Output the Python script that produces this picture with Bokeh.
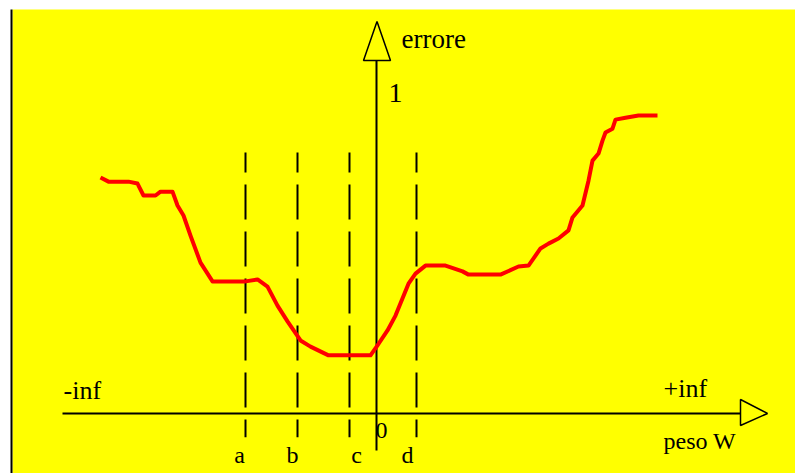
from bokeh.plotting import figure
from bokeh.models import Range1d
from bokeh.core.properties import value
from bokeh.embed import file_html
from bokeh.resources import INLINE

# ---- data (w = peso, e = errore) ----
curve_w = [-2.76, -2.68, -2.48, -2.39, -2.33, -2.21, -2.16, -2.04, -1.99, -1.93,
           -1.86, -1.76, -1.64, -1.31, -1.19, -1.09, -0.99, -0.89, -0.76, -0.66,
           -0.48, -0.06, 0.01, 0.11, 0.19, 0.32, 0.39, 0.49, 0.69, 0.86,
           0.92, 1.24, 1.42, 1.52, 1.64, 1.72, 1.82, 1.92, 1.96, 2.06,
           2.12, 2.16, 2.22, 2.26, 2.29, 2.36, 2.39, 2.49, 2.62, 2.81]
curve_e = [0.731, 0.718, 0.718, 0.712, 0.675, 0.675, 0.687, 0.687, 0.644, 0.613,
           0.551, 0.467, 0.409, 0.409, 0.415, 0.393, 0.334, 0.285, 0.226, 0.207,
           0.180, 0.180, 0.211, 0.257, 0.303, 0.402, 0.433, 0.458, 0.458, 0.440,
           0.430, 0.430, 0.455, 0.458, 0.511, 0.526, 0.542, 0.567, 0.607, 0.644,
           0.721, 0.783, 0.805, 0.845, 0.870, 0.882, 0.910, 0.916, 0.923, 0.923]

mark_names = ["a", "b", "c", "d"]
mark_w = [-1.31, -0.79, -0.27, 0.40]
mark_label_w = [-1.37, -0.84, -0.20, 0.31]
mark_top = 0.808
mark_bottom = -0.074

x_axis_left = -3.14
x_axis_right = 3.64
y_axis_bottom = -0.115
y_axis_top = 1.093

x_min, x_max = -3.76, 4.19
y_min, y_max = -0.186, 1.279
panel_left = -3.64
panel_top = 1.251

p = figure(width=795, height=473, output_backend="svg", toolbar_location=None,
           x_axis_type=None, y_axis_type=None, min_border=0,
           x_range=Range1d(x_min, x_max), y_range=Range1d(y_min, y_max))
p.outline_line_color = None
p.grid.visible = False
p.background_fill_color = "white"
p.border_fill_color = "white"

# yellow panel and its left border
p.quad(left=[panel_left], right=[x_max], bottom=[y_min], top=[panel_top],
       fill_color="#FFFF00", line_color=None)
p.segment(x0=[panel_left - 0.01], y0=[y_min], x1=[panel_left - 0.01], y1=[panel_top],
          line_color="black", line_width=2)

# dashed marker lines
p.segment(x0=mark_w, y0=[mark_top] * 4, x1=mark_w, y1=[mark_bottom] * 4,
          line_color="black", line_width=2, line_dash="35 12", line_dash_offset=15)

# axes
p.segment(x0=[x_axis_left], y0=[0], x1=[x_axis_right], y1=[0], line_color="black", line_width=2)
p.segment(x0=[0], y0=[y_axis_bottom], x1=[0], y1=[y_axis_top], line_color="black", line_width=2)

# arrow heads
p.patch(x=[x_axis_right, x_axis_right, 3.91], y=[0.0433, -0.0372, 0.0],
        fill_color="#FFFF00", line_color="black", line_width=1.5)
p.patch(x=[-0.13, 0.14, 0.005], y=[y_axis_top, y_axis_top, 1.2136],
        fill_color="#FFFF00", line_color="black", line_width=1.5)

# error curve
p.line(curve_w, curve_e, line_color="#FF0000", line_width=4, line_join="round")

font = value("Liberation Serif")
p.text(x=[0.25], y=[1.161], text=["errore"], text_font=font,
       text_font_size=value("27px"), text_color="black", text_baseline="alphabetic")
p.text(x=[0.12], y=[0.994], text=["1"], text_font=font,
       text_font_size=value("28px"), text_color="black", text_baseline="alphabetic")
p.text(x=[-3.13], y=[0.071], text=["-inf"], text_font=font,
       text_font_size=value("26px"), text_color="black", text_baseline="alphabetic")
p.text(x=[2.87], y=[0.077], text=["+inf"], text_font=font,
       text_font_size=value("26px"), text_color="black", text_baseline="alphabetic")
p.text(x=[2.87], y=[-0.084], text=["peso W"], text_font=font,
       text_font_size=value("24px"), text_color="black", text_baseline="alphabetic")
p.text(x=mark_label_w, y=[-0.130] * 4, text=mark_names, text_font=font,
       text_font_size=value("24px"), text_color="black", text_baseline="alphabetic",
       text_align="center")
p.text(x=[0.05], y=[-0.053], text=["0"], text_font=font,
       text_font_size=value("24px"), text_color="black", text_baseline="alphabetic",
       text_align="center")

open("out.html", "w").write(file_html(p, INLINE))
